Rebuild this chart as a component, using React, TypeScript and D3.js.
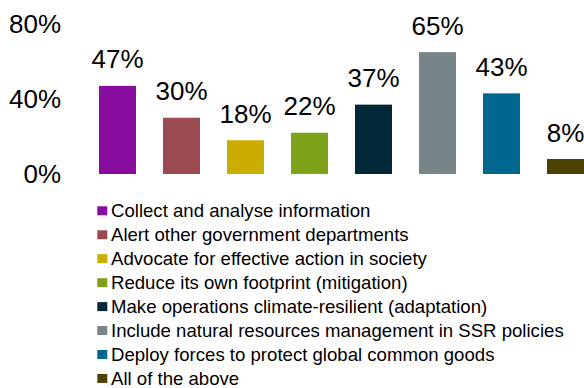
import React from "react";
import * as d3 from "d3";

const categories = [
  "Collect and analyse information",
  "Alert other government departments",
  "Advocate for effective action in society",
  "Reduce its own footprint (mitigation)",
  "Make operations climate-resilient (adaptation)",
  "Include natural resources management in SSR policies",
  "Deploy forces to protect global common goods",
  "All of the above",
];
const values = [47, 30, 18, 22, 37, 65, 43, 8];
const colors = ["#880c9e", "#9c4a52", "#cbad00", "#7ea21a", "#032838", "#778488", "#00678f", "#4e4200"];
const yTicks = [0, 40, 80];

const W = 584;
const H = 388;
const FONT = "'Liberation Sans', Arial, Helvetica, sans-serif";

export default function App() {
  const p = 27 / 64;
  const x = d3.scaleBand<number>().domain(d3.range(values.length)).range([85.5, 597.5]).paddingInner(p).paddingOuter(p / 2);
  const y = d3.scaleLinear().domain([0, 80]).range([174, 24]);
  return (
    <svg width={W} height={H} style={{ position: "absolute", left: 0, top: 0, background: "#fff" }} fontFamily={FONT}>
      {yTicks.map((t) => (
        <text key={t} x={61} y={y(t)} dy="0.35em" textAnchor="end" fontSize={26} fill="#000">
          {t}%
        </text>
      ))}
      {values.map((v, i) => (
        <g key={i}>
          <rect x={x(i)} y={y(v)} width={x.bandwidth()} height={y(0) - y(v)} fill={colors[i]} />
          <text x={(x(i) as number) + x.bandwidth() / 2} y={y(v) - 17.5} textAnchor="middle" fontSize={26} fill="#000">
            {v}%
          </text>
        </g>
      ))}
      {categories.map((c, i) => {
        const cy = 210.8 + i * 23.95;
        return (
          <g key={c}>
            <rect x={97.3} y={cy - 4.5} width={10} height={9} fill={colors[i]} />
            <text x={111} y={cy} dy="0.35em" fontSize={18.6} fill="#000">
              {c}
            </text>
          </g>
        );
      })}
    </svg>
  );
}
